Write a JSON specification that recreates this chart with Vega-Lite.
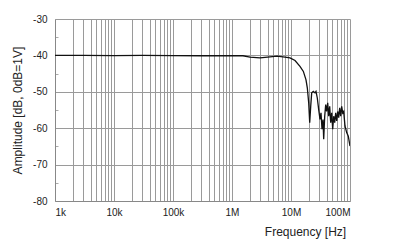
{
  "$schema": "https://vega.github.io/schema/vega-lite/v6.json",
  "width": 295,
  "height": 182,
  "autosize": {"type": "none"},
  "padding": {"left": 55, "top": 19, "right": 43, "bottom": 49},
  "background": "white",
  "config": {
    "view": {"stroke": null},
    "font": "Liberation Sans",
    "axis": {"labelFont": "Liberation Sans", "titleFont": "Liberation Sans", "labelFontSize": 10, "titleFontSize": 12, "labelColor": "#222", "titleColor": "#222", "titleFontWeight": "normal", "gridColor": "#9a9a9a", "gridOpacity": 1, "domainColor": "#888"}
  },
  "data": {
    "values": [
      {"f": 1000, "a": -40.0},
      {"f": 3000, "a": -40.0},
      {"f": 10000, "a": -40.05},
      {"f": 30000, "a": -40.0},
      {"f": 100000, "a": -40.05},
      {"f": 300000, "a": -40.1},
      {"f": 1000000, "a": -40.1},
      {"f": 1535000, "a": -40.1},
      {"f": 2020000, "a": -40.5},
      {"f": 2980000, "a": -40.7},
      {"f": 4410000, "a": -40.4},
      {"f": 5800000, "a": -40.2},
      {"f": 7910000, "a": -40.5},
      {"f": 9620000, "a": -40.7},
      {"f": 11700000, "a": -41.4},
      {"f": 14200000, "a": -43.0},
      {"f": 16200000, "a": -44.4},
      {"f": 17960000, "a": -46.7},
      {"f": 18900000, "a": -48.9},
      {"f": 19950000, "a": -53.0},
      {"f": 20750000, "a": -58.5},
      {"f": 21580000, "a": -54.0},
      {"f": 22430000, "a": -50.3},
      {"f": 23880000, "a": -49.9},
      {"f": 25510000, "a": -50.3},
      {"f": 26530000, "a": -49.9},
      {"f": 27910000, "a": -51.7},
      {"f": 29480000, "a": -54.9},
      {"f": 31010000, "a": -57.6},
      {"f": 32250000, "a": -55.8},
      {"f": 33540000, "a": -60.3},
      {"f": 34870000, "a": -57.6},
      {"f": 35830000, "a": -63.0},
      {"f": 37260000, "a": -56.7},
      {"f": 38740000, "a": -53.5},
      {"f": 40290000, "a": -55.4},
      {"f": 41880000, "a": -53.0},
      {"f": 43550000, "a": -56.7},
      {"f": 45280000, "a": -54.0},
      {"f": 47090000, "a": -58.5},
      {"f": 48960000, "a": -55.8},
      {"f": 50910000, "a": -60.3},
      {"f": 52920000, "a": -56.7},
      {"f": 55030000, "a": -58.5},
      {"f": 57220000, "a": -55.8},
      {"f": 59500000, "a": -58.0},
      {"f": 61860000, "a": -55.4},
      {"f": 64330000, "a": -57.1},
      {"f": 66880000, "a": -54.4},
      {"f": 69550000, "a": -56.7},
      {"f": 72320000, "a": -54.0},
      {"f": 75200000, "a": -55.8},
      {"f": 78190000, "a": -55.4},
      {"f": 82270000, "a": -59.4},
      {"f": 87930000, "a": -61.2},
      {"f": 93590000, "a": -62.2},
      {"f": 100000000, "a": -64.9}
    ]
  },
  "mark": {"type": "line", "color": "#111", "strokeWidth": 1.3, "clip": true},
  "encoding": {
    "x": {
      "field": "f", "type": "quantitative",
      "scale": {"type": "log", "domain": [1000, 100000000], "nice": false},
      "axis": {
        "title": "Frequency [Hz]",
        "values": [1000,2000,3000,4000,5000,6000,7000,8000,9000,10000,20000,30000,40000,50000,60000,70000,80000,90000,100000,200000,300000,400000,500000,600000,700000,800000,900000,1000000,2000000,3000000,4000000,5000000,6000000,7000000,8000000,9000000,10000000,20000000,30000000,40000000,50000000,60000000,70000000,80000000,90000000,100000000],
        "labelExpr": "indexof([1000,10000,100000,1000000,10000000,100000000], datum.value) >= 0 ? format(datum.value, '~s') : ''",
        "ticks": false,
        "labelPadding": 6,
        "labelOverlap": false,
        "titleX": 250,
        "titleY": 25,
        "titleAlign": "center",
        "titleBaseline": "top"
      }
    },
    "y": {
      "field": "a", "type": "quantitative",
      "scale": {"domain": [-80, -30], "nice": false, "zero": false},
      "axis": {
        "title": "Amplitude [dB, 0dB=1V]",
        "values": [-80,-75,-70,-65,-60,-55,-50,-45,-40,-35,-30],
        "labelExpr": "datum.value % 10 === 0 ? datum.value : ''",
        "gridOpacity": {"condition": {"test": "datum.value % 10 !== 0", "value": 0}, "value": 1},
        "tickSize": -3,
        "tickColor": "#aaa",
        "tickOpacity": {"condition": {"test": "datum.value % 10 === 0", "value": 0}, "value": 1},
        "labelPadding": 11,
        "titlePadding": 8
      }
    }
  }
}
